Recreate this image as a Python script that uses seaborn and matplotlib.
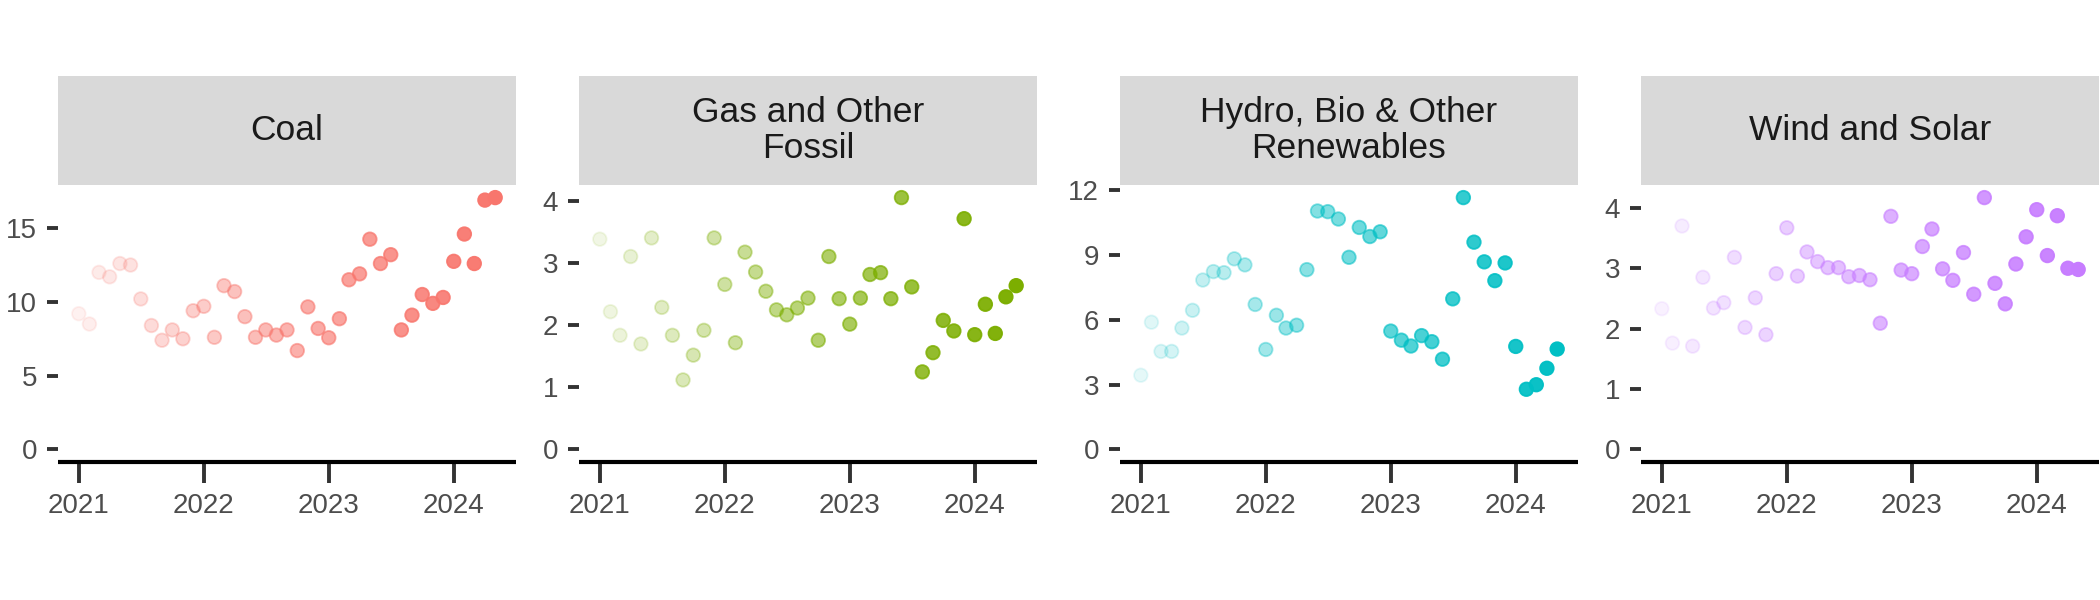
import numpy as np
import pandas as pd
import matplotlib
matplotlib.use("Agg")
import matplotlib.pyplot as plt
import matplotlib.dates as mdates
import seaborn as sns
from matplotlib.colors import to_rgba

# ---------------- data ----------------
categories = ["Coal", "Gas and Other\nFossil", "Hydro, Bio & Other\nRenewables", "Wind and Solar"]
months = pd.date_range("2021-01-01", "2024-05-01", freq="MS")

coal = [9.2, 8.5, 12.0, 11.7, 12.6, 12.5, 10.2, 8.4, 7.4, 8.1, 7.5, 9.4,
        9.7, 7.6, 11.1, 10.7, 9.0, 7.6, 8.1, 7.75, 8.1, 6.7, 9.66, 8.2,
        7.57, 8.86, 11.5, 11.9, 14.25, 12.6, 13.2, 8.1, 9.1, 10.5, 9.9, 10.3,
        12.75, 14.6, 12.6, 16.9, 17.07]
gas = [3.39, 2.22, 1.84, 3.11, 1.70, 3.41, 2.29, 1.84, 1.12, 1.52, 1.92, 3.41,
       2.66, 1.72, 3.18, 2.86, 2.55, 2.25, 2.17, 2.28, 2.44, 1.76, 3.11, 2.43,
       2.02, 2.44, 2.82, 2.85, 2.43, 4.06, 2.62, 1.25, 1.56, 2.08, 1.91, 3.72,
       1.85, 2.34, 1.87, 2.46, 2.64]
hydro = [3.43, 5.88, 4.53, 4.53, 5.61, 6.43, 7.83, 8.22, 8.17, 8.81, 8.53, 6.70,
         4.62, 6.20, 5.61, 5.74, 8.31, 11.02, 10.99, 10.65, 8.88, 10.26, 9.84, 10.06,
         5.47, 5.05, 4.78, 5.26, 4.98, 4.17, 6.96, 11.64, 9.58, 8.67, 7.80, 8.62,
         4.76, 2.78, 2.99, 3.75, 4.64]
wind = [2.33, 1.76, 3.70, 1.71, 2.85, 2.34, 2.43, 3.18, 2.02, 2.51, 1.90, 2.91,
        3.67, 2.87, 3.27, 3.11, 3.01, 3.01, 2.86, 2.88, 2.81, 2.09, 3.86, 2.97,
        2.91, 3.36, 3.65, 2.99, 2.80, 3.26, 2.57, 4.17, 2.75, 2.41, 3.07, 3.52,
        3.97, 3.21, 3.87, 3.00, 2.98]

series = [coal, gas, hydro, wind]
y_ticks = [[0, 5, 10, 15], [0, 1, 2, 3, 4], [0, 3, 6, 9, 12], [0, 1, 2, 3, 4]]
year_ticks = ["2021", "2022", "2023", "2024"]
colors = ["#F8766D", "#7CAE00", "#00BFC4", "#C77CFF"]

# ---------------- style ----------------
sns.set_style("white")
plt.rcParams["font.family"] = ["Liberation Sans", "DejaVu Sans"]

fig = plt.figure(figsize=(21, 6), dpi=100)
W, H = 2100.0, 600.0

lefts = [58, 579, 1120, 1641]
pw = 458
p_top, p_bot = 185, 462
s_top = 76

alphas = np.linspace(0.1, 1.0, len(months))
xnum = mdates.date2num(months)
xspan = xnum[-1] - xnum[0]

for i, (cat, vals, yt, col) in enumerate(zip(categories, series, y_ticks, colors)):
    ax = fig.add_axes([lefts[i] / W, (H - p_bot) / H, pw / W, (p_bot - p_top) / H])
    df = pd.DataFrame({"date": months, "value": vals})
    sns.scatterplot(data=df, x="date", y="value", ax=ax, s=95, color=col,
                    edgecolor=col, linewidth=1.3, legend=False, zorder=3)
    coll = ax.collections[0]
    rgba = [to_rgba(col, a) for a in alphas]
    coll.set_alpha(None)
    coll.set_facecolors(rgba)
    coll.set_edgecolors(rgba)

    ymax = max(vals)
    ax.set_ylim(-0.05 * ymax, ymax * 1.05)
    ax.set_xlim(xnum[0] - 0.05 * xspan, xnum[-1] + 0.05 * xspan)

    ax.set_yticks(yt)
    ax.set_yticklabels([str(v) for v in yt])
    ax.set_xticks([mdates.date2num(pd.Timestamp(f"{y}-01-01")) for y in year_ticks])
    ax.set_xticklabels(year_ticks)

    ax.set_xlabel("")
    ax.set_ylabel("")
    ax.grid(False)
    for sp in ["top", "right", "left"]:
        ax.spines[sp].set_visible(False)
    ax.spines["bottom"].set_linewidth(3.0)
    ax.spines["bottom"].set_color("black")
    ax.spines["bottom"].set_capstyle("butt")

    ax.tick_params(axis="x", bottom=True, length=15, width=2.8, color="#333333", pad=7,
                   labelsize=20, labelcolor="#4D4D4D", direction="out")
    ax.tick_params(axis="y", left=True, length=8, width=2.8, color="#333333", pad=7,
                   labelsize=20, labelcolor="#4D4D4D", direction="out")

    # strip
    sax = fig.add_axes([lefts[i] / W, (H - p_top) / H, pw / W, (p_top - s_top) / H])
    sax.set_facecolor("#D9D9D9")
    sax.set_xticks([])
    sax.set_yticks([])
    for sp in sax.spines.values():
        sp.set_visible(False)
    sax.text(0.5, 0.5, cat, ha="center", va="center", fontsize=25.5,
             color="#1A1A1A", linespacing=1.12, transform=sax.transAxes)

fig.savefig("out.png", dpi=100, facecolor="white")
